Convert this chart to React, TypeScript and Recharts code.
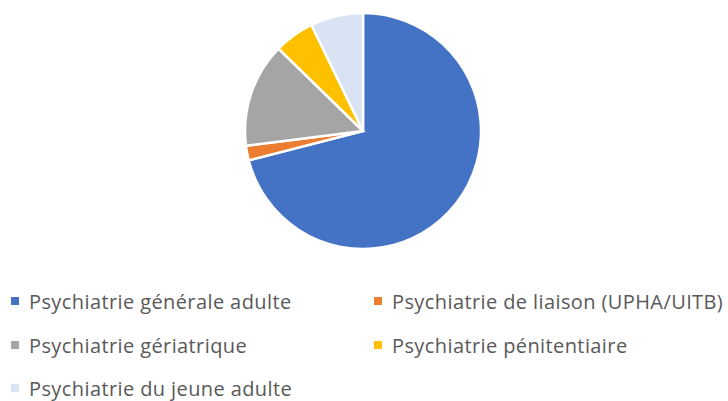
import { PieChart, Pie, Cell, Legend } from 'recharts'

const categories = [
  'Psychiatrie générale adulte',
  'Psychiatrie de liaison (UPHA/UITB)',
  'Psychiatrie gériatrique',
  'Psychiatrie pénitentiaire',
  'Psychiatrie du jeune adulte',
]
const values = [71.0, 2.0, 14.3, 5.5, 7.2]
const colors = ['#4472C4', '#ED7D31', '#A5A5A5', '#FFC000', '#DAE3F3']

const data = categories.map((name, i) => ({ name, value: values[i] }))

// legend positions follow the reference's two-column layout
const legendPos = [
  { left: 11, top: 301 },
  { left: 374, top: 301 },
  { left: 11, top: 345 },
  { left: 374, top: 345 },
  { left: 11, top: 388 },
]

function renderLegend() {
  return (
    <div style={{ position: 'relative', width: 728, height: 401 }}>
      {categories.map((name, i) => (
        <div
          key={name}
          style={{
            position: 'absolute',
            left: legendPos[i].left,
            top: legendPos[i].top - 14,
            height: 28,
            display: 'flex',
            alignItems: 'center',
            whiteSpace: 'nowrap',
            fontFamily: '"Open Sans", sans-serif',
            fontSize: 20,
            letterSpacing: 0.4,
            color: '#595959',
          }}
        >
          <span style={{ width: 8, height: 8, background: colors[i], marginRight: 10, display: 'inline-block' }} />
          {name}
        </div>
      ))}
    </div>
  )
}

export default function App() {
  return (
    <div style={{ position: 'absolute', left: 0, top: 0, width: 728, height: 401, background: '#fff' }}>
      <PieChart width={728} height={401} margin={{ top: 0, right: 0, bottom: 0, left: 0 }}>
        <Pie
          data={data}
          dataKey="value"
          nameKey="name"
          cx={363}
          cy={131}
          outerRadius={118}
          startAngle={90}
          endAngle={-270}
          stroke="#fff"
          strokeWidth={2.5}
          isAnimationActive={false}
        >
          {data.map((d, i) => (
            <Cell key={d.name} fill={colors[i]} />
          ))}
        </Pie>
        <Legend
          content={renderLegend}
          wrapperStyle={{ position: 'absolute', left: 0, top: 0, width: 728, height: 401 }}
        />
      </PieChart>
    </div>
  )
}
